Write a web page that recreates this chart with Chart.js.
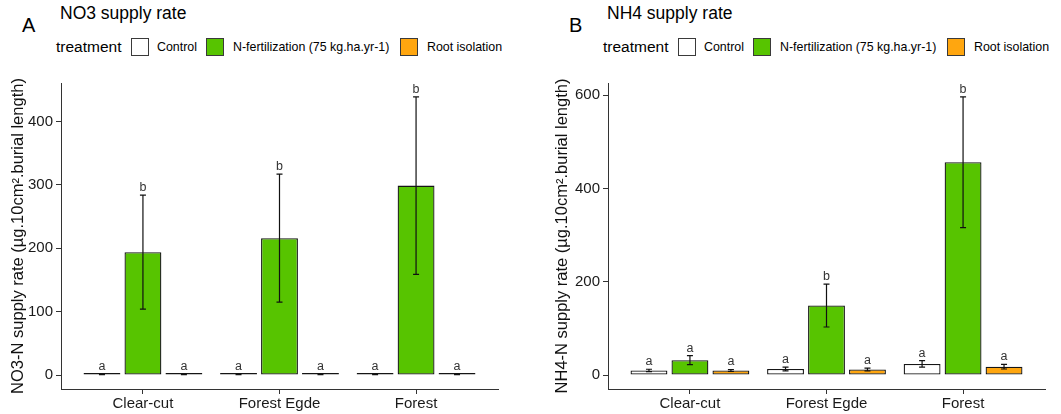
<!DOCTYPE html>
<html>
<head>
<meta charset="utf-8">
<script src="https://cdn.jsdelivr.net/npm/chart.js@4.4.1/dist/chart.umd.min.js"></script>
<style>
  html, body { margin: 0; padding: 0; background: #fff; }
  body { width: 1061px; height: 414px; position: relative; overflow: hidden;
         font-family: 'Liberation Sans', Arial, sans-serif; color: #000; }
  .panel { position: absolute; top: 0; width: 514px; height: 414px; }
  .panel canvas { position: absolute; left: 0; top: 0; }
  .t { position: absolute; white-space: nowrap; line-height: 1; }
  .key { position: absolute; top: 38px; width: 18px; height: 18px; box-sizing: border-box; border: 1px solid #3a3a3a; }
</style>
</head>
<body>
<div class="panel" id="panelA" style="left:0"></div>
<div class="panel" id="panelB" style="left:547px"></div>
<script>
// Shared categories and treatments
const categories = ['Clear-cut', 'Forest Egde', 'Forest'];
const treatments = ['Control', 'N-fertilization (75 kg.ha.yr-1)', 'Root isolation'];
const fills = ['#ffffff', '#57c400', '#ffa60f'];

// NO3-N supply rate: means, standard errors and group letters per treatment
const no3Control = [1, 1, 1];
const no3Fert = [194, 216, 299];
const no3Root = [1, 1, 1];
const no3ControlSE = [0.5, 0.5, 0.5];
const no3FertSE = [90, 101, 140];
const no3RootSE = [0.5, 0.5, 0.5];
const no3ControlLetters = ['a', 'a', 'a'];
const no3FertLetters = ['b', 'b', 'b'];
const no3RootLetters = ['a', 'a', 'a'];
const no3Ticks = [0, 100, 200, 300, 400];

// NH4-N supply rate
const nh4Control = [10, 13, 24];
const nh4Fert = [32, 149, 456];
const nh4Root = [10, 12, 18];
const nh4ControlSE = [2.5, 4, 7];
const nh4FertSE = [9.5, 46, 140];
const nh4RootSE = [2, 3, 5];
const nh4ControlLetters = ['a', 'a', 'a'];
const nh4FertLetters = ['a', 'b', 'b'];
const nh4RootLetters = ['a', 'a', 'a'];
const nh4Ticks = [0, 200, 400, 600];

const FONT = "'Liberation Sans', Arial, sans-serif";
Chart.defaults.font.family = FONT;

// Error bars with significance letters on top of each bar
const errorBars = {
  id: 'errorBars',
  afterDatasetsDraw(chart) {
    const ctx = chart.ctx;
    const ys = chart.scales.y;
    ctx.save();
    chart.data.datasets.forEach((ds, di) => {
      const meta = chart.getDatasetMeta(di);
      meta.data.forEach((bar, j) => {
        const v = ds.data[j].y, e = ds.se[j];
        const x = bar.x;
        const yHi = ys.getPixelForValue(v + e);
        const yLo = ys.getPixelForValue(v - e);
        ctx.strokeStyle = '#111';
        ctx.lineWidth = 1.2;
        ctx.beginPath();
        ctx.moveTo(x, yHi); ctx.lineTo(x, yLo);
        ctx.moveTo(x - 3, yHi); ctx.lineTo(x + 3, yHi);
        ctx.moveTo(x - 3, yLo); ctx.lineTo(x + 3, yLo);
        ctx.stroke();
        ctx.fillStyle = '#333';
        ctx.font = '12.5px ' + FONT;
        ctx.textAlign = 'center';
        ctx.textBaseline = 'alphabetic';
        ctx.fillText(ds.letters[j], x, yHi - 4);
      });
    });
    ctx.restore();
  }
};

// Text placed by its baseline (line-height 1, Liberation Sans metrics)
function addText(el, str, left, baseline, size) {
  const s = document.createElement('div');
  s.className = 't';
  s.textContent = str;
  s.style.fontSize = size + 'px';
  s.style.left = left + 'px';
  s.style.top = (baseline - 0.8465 * size) + 'px';
  el.appendChild(s);
}

function buildPanel(id, letter, title, yTitle, series, se, letters, yTicks, titlePad) {
  const el = document.getElementById(id);
  addText(el, letter, 22, 32, 20);
  addText(el, title, 60, 20, 17.5);
  addText(el, 'treatment', 56, 52.5, 15.5);
  const keyX = [131, 206, 400];
  const labelX = [157, 233, 427];
  treatments.forEach((name, i) => {
    const k = document.createElement('div');
    k.className = 'key';
    k.style.left = keyX[i] + 'px';
    k.style.background = fills[i];
    el.appendChild(k);
    addText(el, name, labelX[i], 51.5, 12.4);
  });

  const canvas = document.createElement('canvas');
  canvas.width = 514; canvas.height = 414;
  el.appendChild(canvas);

  // y range with 5% expansion around 0 .. highest error bar
  let top = 0;
  series.forEach((s, i) => s.forEach((v, j) => { top = Math.max(top, v + se[i][j]); }));
  const pad = top * 0.05;

  const axisGrid = { display: true, drawOnChartArea: false, drawTicks: true, tickLength: 5,
                     tickColor: '#333', lineWidth: 1, offset: false };
  const axisBorder = { display: true, color: '#333', width: 1 };

  return new Chart(canvas, {
    type: 'bar',
    data: {
      datasets: treatments.map((name, i) => ({
        label: name,
        data: categories.map((c, j) => ({ x: j + 1, y: series[i][j] })),
        se: se[i],
        letters: letters[i],
        backgroundColor: fills[i],
        borderColor: '#151515',
        borderWidth: 1.3,
        borderSkipped: false,
        minBarLength: 2,
        categoryPercentage: 0.9,
        barPercentage: 0.9
      }))
    },
    options: {
      responsive: false,
      animation: false,
      devicePixelRatio: 1,
      layout: { padding: { top: 83, right: 16, bottom: 0, left: 0 } },
      plugins: { legend: { display: false }, tooltip: { enabled: false } },
      scales: {
        x: {
          type: 'linear', min: 0.4, max: 3.6, bounds: 'data', offset: false,
          afterBuildTicks: s => { s.ticks = categories.map((c, i) => ({ value: i + 1 })); },
          afterFit: s => { s.height = 25; },
          grid: axisGrid,
          border: axisBorder,
          ticks: { color: '#1a1a1a', font: { size: 15 }, padding: 1, maxRotation: 0, autoSkip: false,
                   callback: v => categories[Math.round(v) - 1] }
        },
        y: {
          type: 'linear', min: -pad, max: top + pad, bounds: 'data',
          afterBuildTicks: s => { s.ticks = yTicks.map(v => ({ value: v })); },
          afterFit: s => { s.width = 61; },
          grid: axisGrid,
          border: axisBorder,
          ticks: { color: '#1a1a1a', font: { size: 15 }, padding: 3 },
          title: { display: true, text: yTitle, color: '#111', font: { size: 16.5 },
                   padding: { top: titlePad, bottom: 0 } }
        }
      }
    },
    plugins: [errorBars]
  });
}

buildPanel('panelA', 'A', 'NO3 supply rate', 'NO3-N supply rate (µg.10cm².burial length)',
  [no3Control, no3Fert, no3Root],
  [no3ControlSE, no3FertSE, no3RootSE],
  [no3ControlLetters, no3FertLetters, no3RootLetters],
  no3Ticks, 9);

buildPanel('panelB', 'B', 'NH4 supply rate', 'NH4-N supply rate (µg.10cm².burial length)',
  [nh4Control, nh4Fert, nh4Root],
  [nh4ControlSE, nh4FertSE, nh4RootSE],
  [nh4ControlLetters, nh4FertLetters, nh4RootLetters],
  nh4Ticks, 6);
</script>
</body>
</html>
